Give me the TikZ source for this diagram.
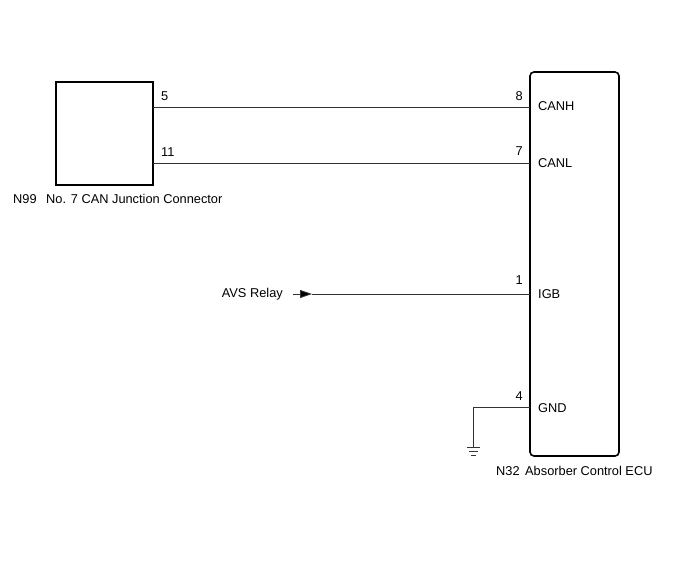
\documentclass[tikz,border=0pt]{standalone}
\usepackage{fontspec}
\setmainfont{Liberation Sans}
\usetikzlibrary{positioning, arrows.meta}

\begin{document}
\begin{tikzpicture}[x=1pt, y=-1pt,
		wire/.style={draw=black!80, line width=0.8pt},
		part/.style={draw, line width=1.6pt, inner sep=0pt},
		lbl/.style={inner sep=0pt, font=\fontsize{12.8}{14}\selectfont},
	]
			\useasboundingbox (0,0) rectangle (688,560);
			% Nodes
			\node (jc) [part, minimum width=97pt, minimum height=103pt] at (104.5,133.5) {};
			\node (ecu) [part, rounded corners=4pt, minimum width=89pt, minimum height=384pt] at (574.5,264) {};
			\node (jcno) [lbl, anchor=west] at (13,199) {N99};
			\node (jcname) [lbl, anchor=west] at (46,199) {No. 7 CAN Junction Connector};
			\node (ecuno) [lbl, anchor=west] at (496,471) {N32};
			\node (ecuname) [lbl, anchor=west] at (525,471) {Absorber Control ECU};
			\node (relay) [lbl, anchor=east] at (283,294) {AVS Relay};

			\coordinate (j5) at (153,107);
			\coordinate (j11) at (153,163);
			\coordinate (e8) at (530,107);
			\coordinate (e7) at (530,163);
			\coordinate (e1) at (530,294);
			\coordinate (e4) at (530,407);
			\coordinate (r0) at (293,294);
			\coordinate (rt) at (312,294);
			\coordinate (gc) at (473,407);
			\coordinate (g) at (473,447);

			\node [lbl, anchor=south west] at (161,101) {5};
			\node [lbl, anchor=south west] at (161,157) {11};
			\node [lbl, anchor=south east] at (523,101) {8};
			\node [lbl, anchor=south east] at (523,156) {7};
			\node [lbl, anchor=south east] at (523,285) {1};
			\node [lbl, anchor=south east] at (523,401) {4};
			\node [lbl, anchor=west] at (538,106) {CANH};
			\node [lbl, anchor=west] at (538,163) {CANL};
			\node [lbl, anchor=west] at (538,294) {IGB};
			\node [lbl, anchor=west] at (538,408) {GND};

			% Edges
			\draw [wire] (j5) -- (e8);
			\draw [wire] (j11) -- (e7);
			\draw [wire, -{Triangle[length=12pt, width=8pt, fill=black]}] (r0) -- (rt);
			\draw [wire] (rt) -- (e1);
			\draw [wire] (e4) -- (gc) -- (g);

			% Ground
			\draw [wire] ([xshift=-6.5pt]g) -- ([xshift=6.5pt]g);
			\draw [wire] ([xshift=-4.5pt, yshift=-4pt]g) -- ([xshift=4.5pt, yshift=-4pt]g);
			\draw [wire] ([xshift=-2.5pt, yshift=-8pt]g) -- ([xshift=2.5pt, yshift=-8pt]g);
		\end{tikzpicture}
\end{document}
